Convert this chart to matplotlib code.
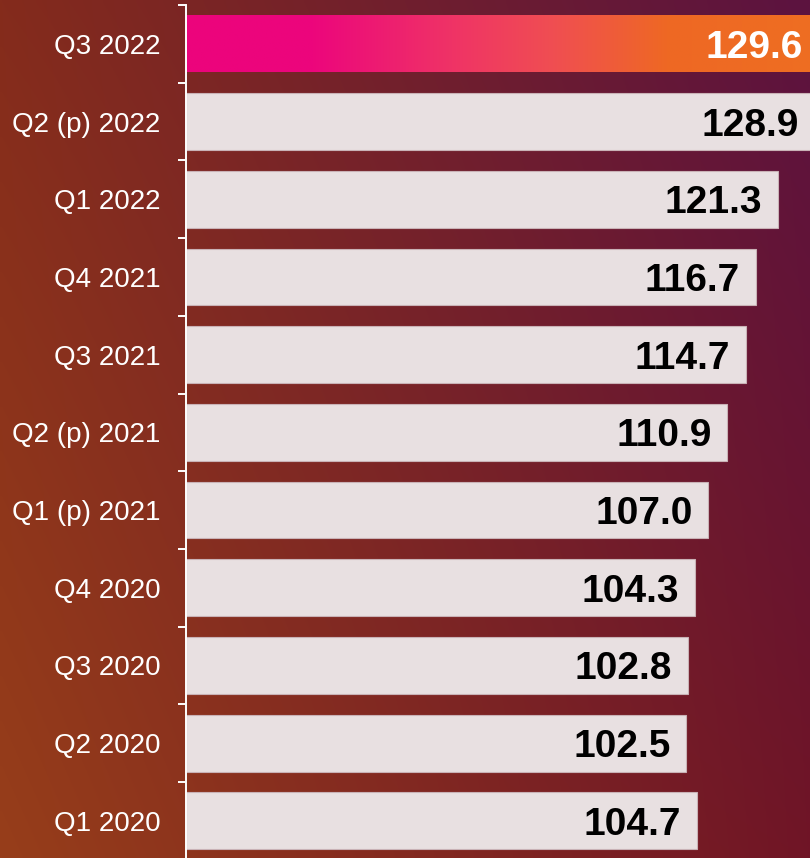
import numpy as np
import matplotlib
matplotlib.use("Agg")
import matplotlib.pyplot as plt
from matplotlib.colors import LinearSegmentedColormap, to_rgb

plt.rcParams['font.family'] = ['Liberation Sans', 'DejaVu Sans']

categories = ["Q3 2022", "Q2 (p) 2022", "Q1 2022", "Q4 2021", "Q3 2021",
              "Q2 (p) 2021", "Q1 (p) 2021", "Q4 2020", "Q3 2020", "Q2 2020", "Q1 2020"]
values = [129.6, 128.9, 121.3, 116.7, 114.7, 110.9, 107.0, 104.3, 102.8, 102.5, 104.7]

W, H = 810, 858
DPI = 100
fig = plt.figure(figsize=(W / DPI, H / DPI), dpi=DPI)

# background gradient (bilinear between four corners)
tl, tr = np.array(to_rgb("#842B1C")), np.array(to_rgb("#5C1340"))
bl, br = np.array(to_rgb("#973E1A")), np.array(to_rgb("#701526"))
u = np.linspace(0, 1, 200)[None, :, None]
v = np.linspace(0, 1, 200)[:, None, None]
bg = (1 - v) * ((1 - u) * tl + u * tr) + v * ((1 - u) * bl + u * br)
bgax = fig.add_axes([0, 0, 1, 1], zorder=0)
bgax.imshow(bg, aspect='auto', extent=[0, 1, 0, 1], interpolation='bilinear')
bgax.set_axis_off()

top_px, bot_px = 5, 859.7
ax = fig.add_axes([186 / W, 1 - bot_px / H, 1 - 186 / W, (bot_px - top_px) / H], zorder=1)
ax.patch.set_alpha(0)

y = np.arange(len(categories))
bar_h = 0.73
colors = ["#EC047C"] + ["#E8E0E1"] * (len(values) - 1)
bars = ax.barh(y, values, height=bar_h, color=colors, edgecolor="#C9B2B6", linewidth=0.8, zorder=2)

# gradient on the highlighted bar
grad_cmap = LinearSegmentedColormap.from_list(
    "hl", [(0.0, "#EC047C"), (0.2, "#EC067C"), (0.42, "#EF3366"),
           (0.58, "#F04E52"), (0.76, "#EE6824"), (1.0, "#EE6E22")])
top_bar = bars[0]
grad = np.linspace(0, 1, 256)[None, :]
im = ax.imshow(grad, cmap=grad_cmap, aspect='auto', zorder=2.5,
               extent=[0, values[0], y[0] + bar_h / 2, y[0] - bar_h / 2],
               interpolation='bilinear')
im.set_clip_path(top_bar)
top_bar.set_edgecolor("none")

ax.set_xlim(0, 127.8)
ax.set_ylim(len(categories) - 0.5, -0.5)

for i, val in enumerate(values):
    ax.annotate(f"{val:.1f}", xy=(val, i), xytext=(-16, -4), textcoords='offset pixels',
                ha='right', va='center', fontsize=28, fontweight='bold',
                color='white' if i == 0 else 'black', annotation_clip=False, zorder=4)

ax.set_yticks(y)
ax.set_yticklabels(categories)
ax.set_yticks(np.arange(len(categories)) - 0.5, minor=True)
ax.tick_params(axis='y', which='major', length=0, pad=18.5, labelsize=20, labelcolor='white')
ax.tick_params(axis='y', which='minor', length=6, width=1.4, color='white', direction='out')
ax.set_xticks([])
for s in ['top', 'right', 'bottom']:
    ax.spines[s].set_visible(False)
ax.spines['left'].set_color('white')
ax.spines['left'].set_linewidth(1.4)
ax.spines['left'].set_zorder(5)

fig.savefig("out.png", dpi=DPI)
